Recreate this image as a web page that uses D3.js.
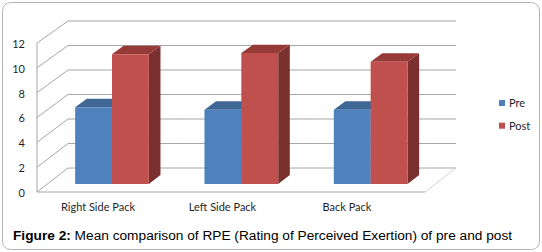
<!DOCTYPE html>
<html>
<head>
<meta charset="utf-8">
<script src="https://cdn.jsdelivr.net/npm/d3@7"></script>
<style>
  html, body { margin: 0; padding: 0; background: #fff; }
</style>
</head>
<body>
<div id="chart"></div>
<script>
// values
const categories = ["Right Side Pack", "Left Side Pack", "Back Pack"];
const seriesNames = ["Pre", "Post"];
const preValues = [6.2, 6.0, 6.0];
const postValues = [10.5, 10.6, 9.9];
const yTicks = [0, 2, 4, 6, 8, 10, 12];

const width = 542, height = 252;
const colors = {
    Pre:  { front: "#4f81bd", top: "#3e6796", side: "#36587f" },
    Post: { front: "#c0504d", top: "#963a38", side: "#7b3030" }
};

const svg = d3.select("#chart").append("svg")
    .attr("width", width)
    .attr("height", height);

// outer frame
svg.append("rect")
    .attr("x", 2.5).attr("y", 2.5)
    .attr("width", 537).attr("height", 247)
    .attr("rx", 8)
    .attr("fill", "#fff")
    .attr("stroke", "#b4b4b4");

// oblique 3D: front plane and back wall
const depthDx = 31;
const yFront = d3.scaleLinear().domain([0, 12]).range([192, 43]);
const yBack = d3.scaleLinear().domain([0, 12]).range([168, 21]);
const xPlane = d3.scaleLinear().domain([0, 1]).range([37, 425]);

// t = depth (0 front, 1 back)
function project(x, v, t) {
    return [x + depthDx * t, yFront(v) + (yBack(v) - yFront(v)) * t];
}

const x0 = d3.scaleBand()
    .domain(categories)
    .range(xPlane.range())
    .paddingInner(0.43)
    .paddingOuter(0.215);

const x1 = d3.scaleBand()
    .domain(seriesNames)
    .range([0, x0.bandwidth()]);

// gridlines on side and back walls
const grid = svg.append("g").attr("stroke", "#a6a6a6").attr("stroke-width", 1).attr("fill", "none");
const line = d3.line();
yTicks.forEach(v => {
    grid.append("path").attr("d", line([project(xPlane(0), v, 0), project(xPlane(0), v, 1)]));
    grid.append("path").attr("d", line([project(xPlane(0), v, 1), project(xPlane(1), v, 1)]));
});
// left front edge
grid.append("path").attr("d", line([project(xPlane(0), 0, 0), project(xPlane(0), 12, 0)]));
// floor
grid.append("path").attr("d", line([project(xPlane(0), 0, 0), project(xPlane(1), 0, 0)]));
grid.append("path").attr("stroke", "#d0d0d0").attr("d", line([project(xPlane(1), 0, 0), project(xPlane(1), 0, 1)]));

// bars
const t0 = 1 / 3, t1 = 0.708;
const rows = [];
categories.forEach((c, i) => {
    rows.push({ cat: c, key: "Pre", value: preValues[i] });
    rows.push({ cat: c, key: "Post", value: postValues[i] });
});

const bars = svg.append("g").selectAll("g")
    .data(rows)
    .enter().append("g");

const poly = pts => "M" + pts.map(p => p.join(",")).join("L") + "Z";

bars.each(function (d) {
    const g = d3.select(this);
    const xl = x0(d.cat) + x1(d.key);
    const xr = xl + x1.bandwidth();
    const c = colors[d.key];
    g.append("path")
        .attr("fill", c.side)
        .attr("d", poly([project(xr, 0, t0), project(xr, d.value, t0), project(xr, d.value, t1), project(xr, 0, t1)]));
    g.append("path")
        .attr("fill", c.top)
        .attr("d", poly([project(xl, d.value, t0), project(xr, d.value, t0), project(xr, d.value, t1), project(xl, d.value, t1)]));
    g.append("path")
        .attr("fill", c.front)
        .attr("d", poly([project(xl, 0, t0), project(xr, 0, t0), project(xr, d.value, t0), project(xl, d.value, t0)]));
});

// y labels
svg.append("g").selectAll("text")
    .data(yTicks)
    .enter().append("text")
    .attr("x", 25)
    .attr("y", d => yFront(d) + 1)
    .attr("dy", "0.35em")
    .attr("text-anchor", "end")
    .style("font-family", "Lato, sans-serif")
    .style("font-size", "11px")
    .style("fill", "#1f1f2a")
    .text(d => d);

// category labels
const xLabel = d3.scalePoint().domain(categories).range([98, 347]);
svg.append("g").selectAll("text")
    .data(categories)
    .enter().append("text")
    .attr("x", d => xLabel(d))
    .attr("y", 207)
    .attr("dy", "0.35em")
    .attr("text-anchor", "middle")
    .style("font-family", "Lato, sans-serif")
    .style("font-size", "11px")
    .style("fill", "#1f1f2a")
    .text(d => d);

// legend
const legend = svg.append("g")
    .selectAll("g")
    .data(seriesNames)
    .enter().append("g")
    .attr("transform", (d, i) => `translate(499, ${100 + i * 22.7})`);

legend.append("rect")
    .attr("width", 6).attr("height", 6)
    .attr("fill", d => colors[d].front);

legend.append("text")
    .attr("x", 10)
    .attr("y", 3)
    .attr("dy", "0.35em")
    .style("font-family", "Lato, sans-serif")
    .style("font-size", "11px")
    .style("fill", "#1f1f2a")
    .text(d => d);

// caption
const caption = svg.append("text")
    .attr("x", 13)
    .attr("y", 240)
    .style("font-family", "'Liberation Sans', Arial, sans-serif")
    .style("font-size", "13.7px")
    .style("fill", "#000");
caption.append("tspan").style("font-weight", "bold").text("Figure 2:");
caption.append("tspan").text(" Mean comparison of RPE (Rating of Perceived Exertion) of pre and post");
</script>
</body>
</html>
